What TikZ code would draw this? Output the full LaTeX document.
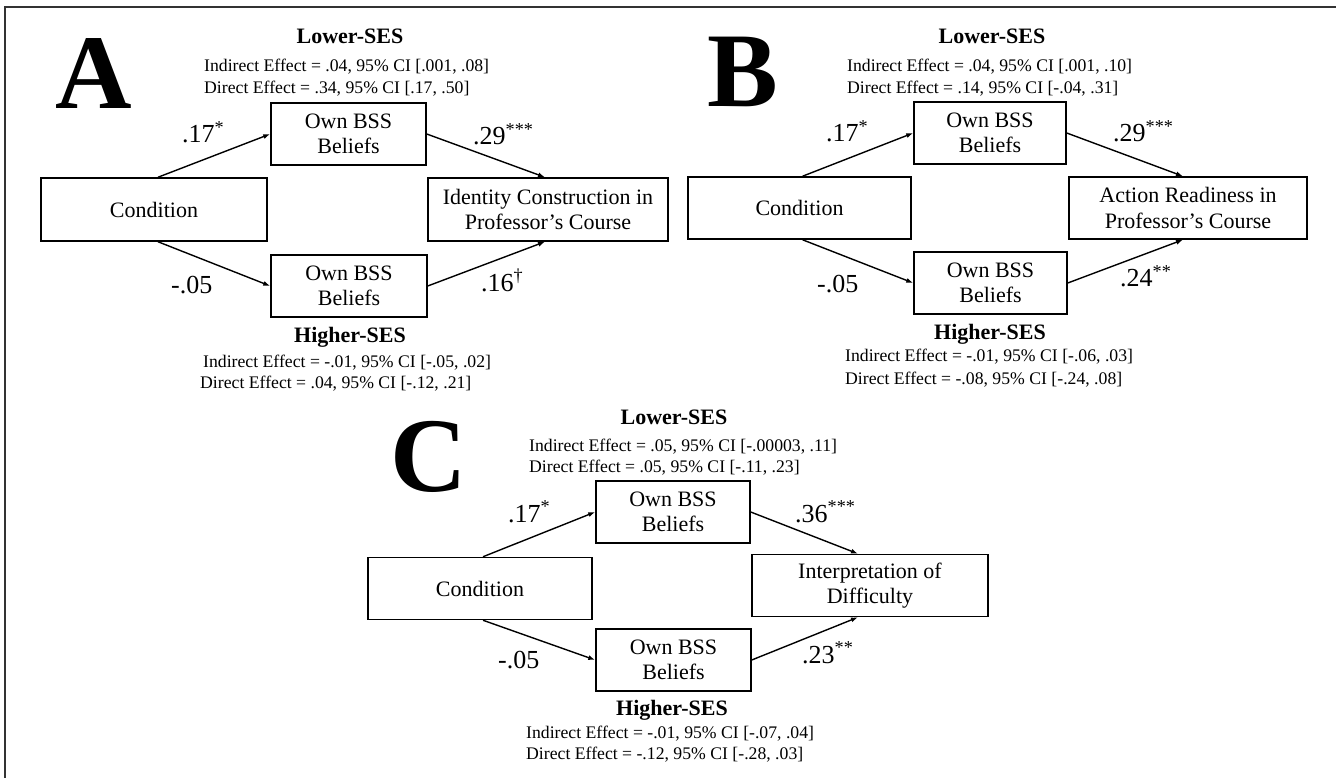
\documentclass[tikz,border=0pt]{standalone}
\usepackage{fontspec}
\setmainfont{Liberation Serif}
\usetikzlibrary{positioning,arrows.meta}

\tikzset{
  box/.style={draw, line width=1.5pt, align=center, inner sep=2pt,
    font=\fontsize{22}{25.5}\selectfont},
  link/.style={line width=1.4pt, -{Latex[length=7pt,width=5pt]}},
  coef/.style={anchor=base west, inner sep=0pt, font=\fontsize{26}{26}\selectfont},
  group/.style={anchor=base, inner sep=0pt, font=\bfseries\fontsize{22}{22}\selectfont},
  stat/.style={anchor=base west, inner sep=0pt, font=\fontsize{17.7}{17.7}\selectfont},
  panel/.style={inner sep=0pt, font=\bfseries\fontsize{106}{106}\selectfont},
}

\begin{document}
\begin{tikzpicture}[x=1pt, y=-1pt]
		\useasboundingbox (0,0) rectangle (1336,778);
		\draw[line width=2pt, black!80] (5,778) -- (5,7.5) -- (1336,7.5);

		% panel A
		\node[panel] (letA) at (94,74) {A};
		\node[box, minimum width=226pt, minimum height=63pt] (condA) at (154,209.5) {Condition};
		\node[box, minimum width=155pt, minimum height=62pt] (topA) at (348.5,134) {Own BSS\\Beliefs};
		\node[box, minimum width=156pt, minimum height=62pt] (botA) at (349,286) {Own BSS\\Beliefs};
		\node[box, minimum width=240pt, minimum height=63pt] (outA) at (548,209.5) {Identity Construction in\\Professor’s Course};

		\node[group] (lowA) at (350,44) {Lower-SES};
		\node[stat] (lowAi) at (204,72) {Indirect Effect = .04, 95\% CI [.001, .08]};
		\node[stat] (lowAd) at (204,94) {Direct Effect = .34, 95\% CI [.17, .50]};
		\node[group] (highA) at (350,342) {Higher-SES};
		\node[stat] (highAi) at (203,367) {Indirect Effect = -.01, 95\% CI [-.05, .02]};
		\node[stat] (highAd) at (200,388.5) {Direct Effect = .04, 95\% CI [-.12, .21]};

		\node[coef] (aTop) at (182,143) {.17\textsuperscript{*}};
		\node[coef] (bTop) at (473,145) {.29\textsuperscript{***}};
		\node[coef] (aBot) at (171,293) {-.05};
		\node[coef] (bBot) at (481,291) {.16\textsuperscript{\textdagger}};

		\draw[link] ([xshift=4pt]condA.north) -- (topA.west);
		\draw[link] (topA.east) -- ([xshift=-3pt]outA.north);
		\draw[link] ([xshift=4pt]condA.south) -- (botA.west);
		\draw[link] (botA.east) -- ([xshift=-3pt]outA.south);

		% panel B
		\node[panel] (letB) at (743,72) {B};
		\node[box, minimum width=223pt, minimum height=62pt] (condB) at (799.5,208) {Condition};
		\node[box, minimum width=152pt, minimum height=62pt] (topB) at (990,133) {Own BSS\\Beliefs};
		\node[box, minimum width=153pt, minimum height=62pt] (botB) at (990.5,283) {Own BSS\\Beliefs};
		\node[box, minimum width=238pt, minimum height=62pt] (outB) at (1188,208) {Action Readiness in\\Professor’s Course};

		\node[group] (lowB) at (992,44) {Lower-SES};
		\node[stat] (lowBi) at (847,72) {Indirect Effect = .04, 95\% CI [.001, .10]};
		\node[stat] (lowBd) at (847,94) {Direct Effect = .14, 95\% CI [-.04, .31]};
		\node[group] (highB) at (990,339) {Higher-SES};
		\node[stat] (highBi) at (845,361) {Indirect Effect = -.01, 95\% CI [-.06, .03]};
		\node[stat] (highBd) at (845,384) {Direct Effect = -.08, 95\% CI [-.24, .08]};

		\node[coef] (aTopB) at (826,142) {.17\textsuperscript{*}};
		\node[coef] (bTopB) at (1113,142) {.29\textsuperscript{***}};
		\node[coef] (aBotB) at (817,292) {-.05};
		\node[coef] (bBotB) at (1120,287) {.24\textsuperscript{**}};

		\draw[link] ([xshift=3pt]condB.north) -- (topB.west);
		\draw[link] (topB.east) -- ([xshift=-5pt]outB.north);
		\draw[link] ([xshift=3pt]condB.south) -- (botB.west);
		\draw[link] (botB.east) -- ([xshift=-5pt]outB.south);

		% panel C
		\node[panel] (letC) at (428.5,457) {C};
		\node[box, minimum width=224pt, minimum height=62pt] (condC) at (480,588.5) {Condition};
		\node[box, minimum width=154pt, minimum height=62pt] (topC) at (673,512) {Own BSS\\Beliefs};
		\node[box, minimum width=155pt, minimum height=62pt] (botC) at (673.5,660) {Own BSS\\Beliefs};
		\node[box, minimum width=236pt, minimum height=62pt] (outC) at (870,585.5) {Interpretation of\\Difficulty};

		\node[group] (lowC) at (674,424) {Lower-SES};
		\node[stat] (lowCi) at (529,451) {Indirect Effect = .05, 95\% CI [-.00003, .11]};
		\node[stat] (lowCd) at (529,472) {Direct Effect = .05, 95\% CI [-.11, .23]};
		\node[group] (highC) at (672,715) {Higher-SES};
		\node[stat] (highCi) at (526,738) {Indirect Effect = -.01, 95\% CI [-.07, .04]};
		\node[stat] (highCd) at (526,759) {Direct Effect = -.12, 95\% CI [-.28, .03]};

		\node[coef] (aTopC) at (508,522) {.17\textsuperscript{*}};
		\node[coef] (bTopC) at (795,522) {.36\textsuperscript{***}};
		\node[coef] (aBotC) at (498,668) {-.05};
		\node[coef] (bBotC) at (802,663) {.23\textsuperscript{**}};

		\draw[link] ([xshift=3pt]condC.north) -- (topC.west);
		\draw[link] (topC.east) -- ([xshift=-12pt]outC.north);
		\draw[link] ([xshift=3pt]condC.south) -- (botC.west);
		\draw[link] (botC.east) -- ([xshift=-12pt]outC.south);
\end{tikzpicture}
\end{document}
